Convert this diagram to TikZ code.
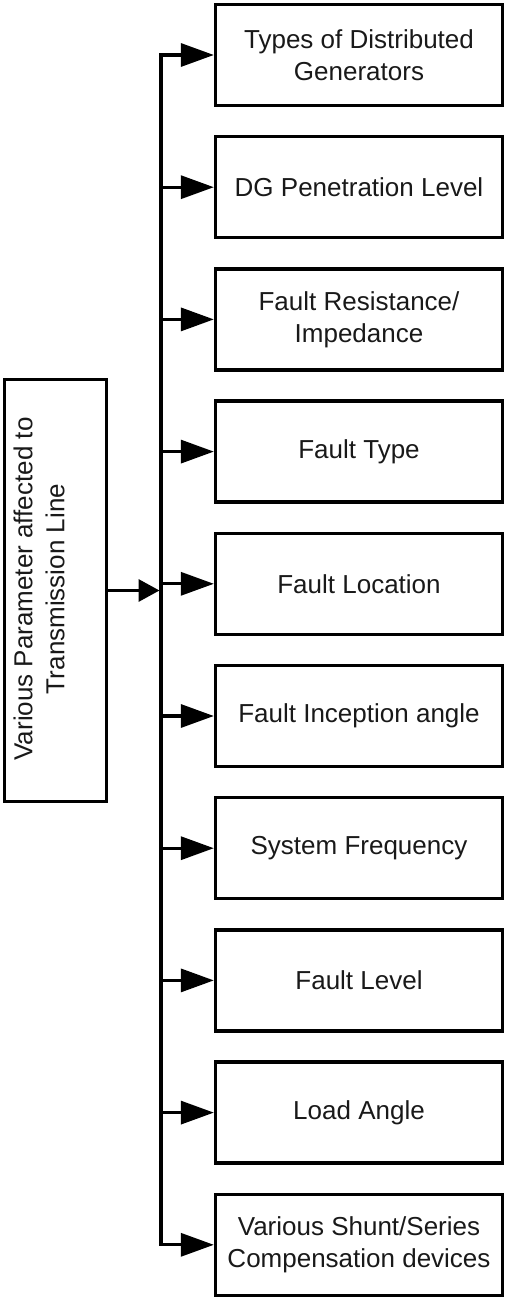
\documentclass[tikz,border=0pt]{standalone}
\usepackage{fontspec}
\setmainfont{Liberation Sans}
\usetikzlibrary{arrows.meta,calc}
\begin{document}
\begin{tikzpicture}[x=1pt,y=-1pt,
  every node/.style={font=\fontsize{26}{32}\selectfont,text=black!90},
  parbox/.style={draw,line width=3.3pt,minimum width=287pt,minimum height=101pt,align=center,inner sep=0pt},
  srcbox/.style={draw,line width=3.3pt,minimum width=102pt,minimum height=422pt,inner sep=0pt},
  branch/.style={line width=3.3pt,-{Triangle[length=33pt,width=23pt]}},
  mainarrow/.style={line width=3.3pt,-{Triangle[length=21pt,width=22pt]}},
  busline/.style={line width=3.3pt,line cap=rect}]
\useasboundingbox (0,0) rectangle (507,1300);
\def\bx{359}
\node[parbox] (b1) at (\bx,55) {Types of Distributed\\Generators};
\node[parbox] (b2) at (\bx,187.2) {DG Penetration Level};
\node[parbox] (b3) at (\bx,319.4) {Fault Resistance/\\Impedance};
\node[parbox] (b4) at (\bx,451.6) {Fault Type};
\node[parbox] (b5) at (\bx,583.8) {Fault Location};
\node[parbox] (b6) at (\bx,716) {Fault Inception angle};
\node[parbox] (b7) at (\bx,848.2) {System Frequency};
\node[parbox] (b8) at (\bx,980.4) {Fault Level};
\node[parbox] (b9) at (\bx,1112.6) {Load Angle};
\node[parbox] (b10) at (\bx,1244.8) {Various Shunt/Series\\Compensation devices};
\node[srcbox] (src) at (55.5,590.5) {};
\node[rotate=90,align=center,inner sep=0pt] (srclbl) at (39,589) {Various Parameter affected to\\Transmission Line};
\coordinate (bus) at (161,0);
\draw[busline] (b1.west -| bus) -- (b10.west -| bus);
\foreach \i in {1,...,10}{
  \draw[branch] (b\i.west -| bus) -- (b\i.west);
}
\draw[mainarrow] (src.east) -- ($(src.east -| bus)+(-1.5,0)$);
\end{tikzpicture}
\end{document}
